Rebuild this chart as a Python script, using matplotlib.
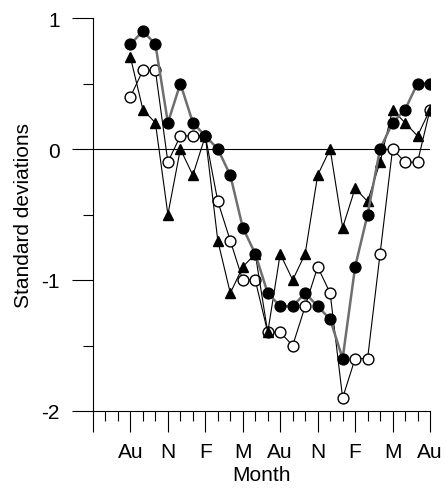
import numpy as np
import matplotlib
matplotlib.use('Agg')
from matplotlib import pyplot as plt

matplotlib.rcParams['font.family'] = ['Liberation Sans', 'DejaVu Sans']
matplotlib.rcParams['font.size'] = 15

# month index: 0 = May, data run Aug (3) .. Aug (27)
months = list(range(3, 28))
filled = [0.8, 0.9, 0.8, 0.2, 0.5, 0.2, 0.1, 0.0, -0.2, -0.6, -0.8, -1.1, -1.2,
          -1.2, -1.1, -1.2, -1.3, -1.6, -0.9, -0.5, 0.0, 0.2, 0.3, 0.5, 0.5]
hollow = [0.4, 0.6, 0.6, -0.1, 0.1, 0.1, 0.1, -0.4, -0.7, -1.0, -1.0, -1.4, -1.4,
          -1.5, -1.2, -0.9, -1.1, -1.9, -1.6, -1.6, -0.8, 0.0, -0.1, -0.1, 0.3]
triangle = [0.7, 0.3, 0.2, -0.5, 0.0, -0.2, 0.1, -0.7, -1.1, -0.9, -0.8, -1.4, -0.8,
            -1.0, -0.8, -0.2, 0.0, -0.6, -0.3, -0.4, -0.1, 0.3, 0.2, 0.1, 0.3]

major_ticks = list(range(0, 28, 3))
major_labels = ['', 'Au', 'N', 'F', 'M', 'Au', 'N', 'F', 'M', 'Au']

fig = plt.figure(figsize=(4.48, 4.89), dpi=100)
ax = fig.add_axes([93 / 448, 1 - 412 / 489, 337 / 448, 393 / 489])

ax.axhline(0, color='black', lw=0.8, zorder=1)

ax.plot(months, hollow, color='black', lw=0.8, marker='o', ms=7.8,
        mfc='white', mec='black', mew=1.0, zorder=2)
ax.plot(months, triangle, color='black', lw=0.8, marker='^', ms=7.8,
        mfc='black', mec='black', zorder=3)
ax.plot(months, filled, color='#6e6e6e', lw=1.8, marker='o', ms=7.8,
        mfc='black', mec='black', zorder=4)

ax.set_xlim(0, 27)
ax.set_ylim(-2, 1)
ax.set_xticks(major_ticks)
ax.set_xticklabels(major_labels)
ax.set_xticks(range(0, 28), minor=True)
ax.set_yticks([-2, -1, 0, 1])
ax.set_yticklabels(['-2', '-1', '0', '1'])
ax.set_yticks(np.arange(-2, 1.01, 0.5), minor=True)

ax.tick_params(which='major', direction='out', length=15, width=0.8)
ax.tick_params(which='minor', direction='out', length=7, width=0.8)
ax.tick_params(axis='x', which='major', pad=7)
ax.tick_params(axis='y', which='major', pad=9)

for s in ['top', 'right']:
    ax.spines[s].set_visible(False)
for s in ['left', 'bottom']:
    ax.spines[s].set_linewidth(0.8)

ax.set_xlabel('Month', labelpad=3)
ax.set_ylabel('Standard deviations')
ax.yaxis.set_label_coords(-0.178, 0.5)

fig.savefig('out.png', dpi=100)
